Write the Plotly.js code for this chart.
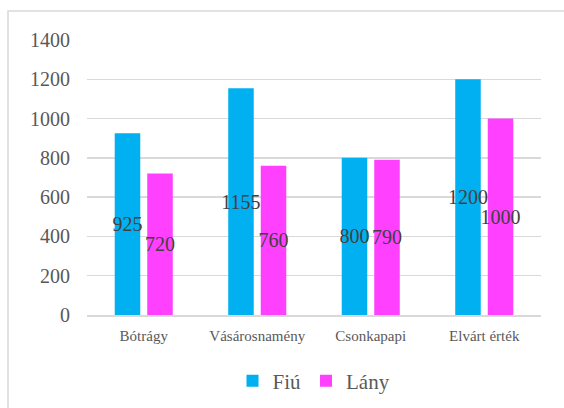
<!DOCTYPE html>
<html>
<head>
<meta charset="utf-8">
<script src="https://cdn.plot.ly/plotly-3.0.1.min.js"></script>
<style>html,body{margin:0;padding:0;background:#fff;}#chart{width:564px;height:408px;}</style>
</head>
<body>
<div id="chart"></div>
<script>
const categories = ["Bótrágy", "Vásárosnamény", "Csonkapapi", "Elvárt érték"];
const fiu = [925, 1155, 800, 1200];
const lany = [720, 760, 790, 1000];
const seriesNames = ["Fiú", "Lány"];
const yTicks = [0, 200, 400, 600, 800, 1000, 1200, 1400];

const serif = "Liberation Serif";
const labelFont = {family: serif, size: 20, color: "#404040"};

function barTrace(name, values, color) {
  return {
    type: "bar",
    name: name,
    x: categories,
    y: values,
    marker: {color: color},
    text: values.map(String),
    textposition: "inside",
    insidetextanchor: "middle",
    constraintext: "none",
    textangle: 0,
    textfont: labelFont,
    insidetextfont: labelFont,
    cliponaxis: false,
    hoverinfo: "none"
  };
}

const data = [
  barTrace(seriesNames[0], fiu, "#00b0f0"),
  barTrace(seriesNames[1], lany, "#ff40ff")
];

const layout = {
  width: 564,
  height: 408,
  margin: {l: 87, r: 23, t: 40, b: 93, autoexpand: false},
  paper_bgcolor: "#ffffff",
  plot_bgcolor: "#ffffff",
  barmode: "group",
  bargap: 0.427,
  bargroupgap: 0.215,
  showlegend: true,
  legend: {
    orientation: "h",
    x: 0.5, xanchor: "center",
    y: -0.24, yanchor: "middle",
    font: {family: serif, size: 21, color: "#595959"},
    itemwidth: 30,
    bgcolor: "rgba(0,0,0,0)"
  },
  xaxis: {
    type: "category",
    showgrid: false,
    showline: true,
    linecolor: "#d9d9d9",
    linewidth: 1.5,
    ticks: "",
    tickfont: {family: serif, size: 15, color: "#595959"},
    ticklabelstandoff: 6,
    automargin: false,
    fixedrange: true
  },
  yaxis: {
    range: [0, 1400],
    tickvals: yTicks,
    ticktext: yTicks.map(String),
    showgrid: true,
    gridcolor: "#d9d9d9",
    gridwidth: 1.5,
    zeroline: false,
    showline: false,
    ticks: "",
    tickfont: {family: serif, size: 20, color: "#595959"},
    ticklabelstandoff: 16,
    automargin: false,
    fixedrange: true
  },
  shapes: [{
    type: "rect",
    xref: "paper", yref: "paper",
    x0: -0.174, x1: 1.06,
    y0: -0.36, y1: 1.1055,
    line: {color: "#d9d9d9", width: 1.5},
    fillcolor: "rgba(0,0,0,0)",
    layer: "below"
  }]
};

Plotly.newPlot("chart", data, layout, {displayModeBar: false, staticPlot: true});
</script>
</body>
</html>
